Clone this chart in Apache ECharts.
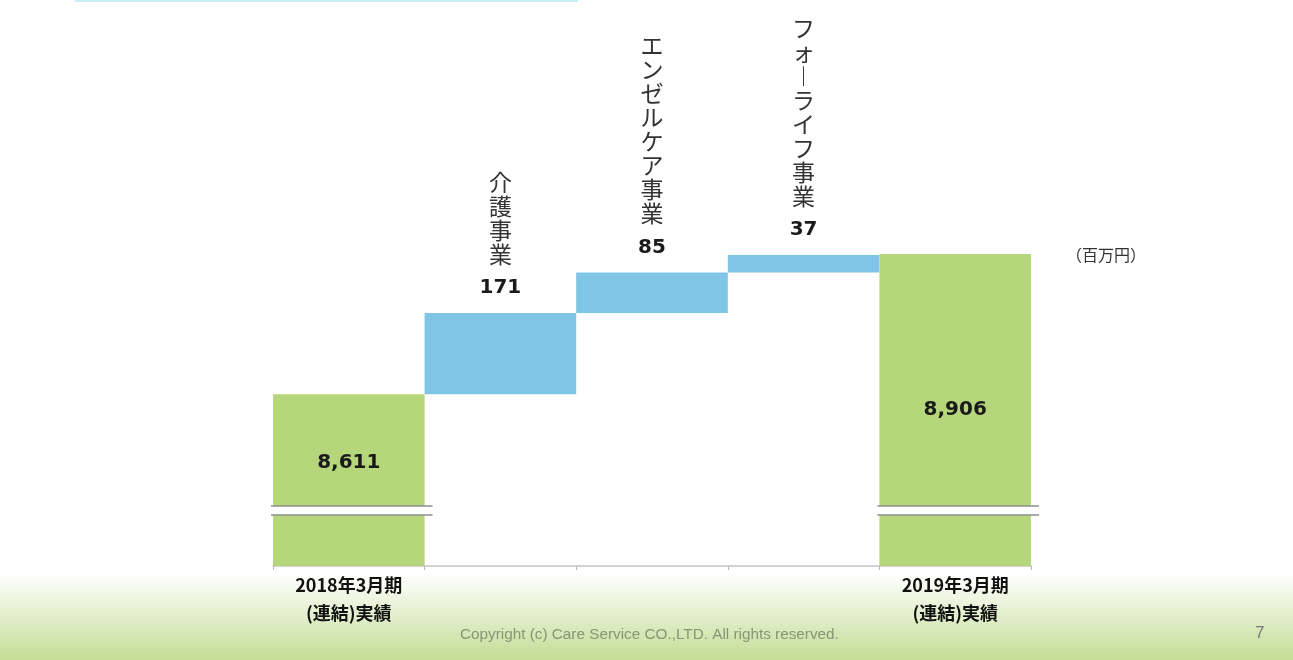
<!DOCTYPE html>
<html>
<head>
<meta charset="utf-8">
<script src="https://cdn.jsdelivr.net/npm/echarts@6/dist/echarts.min.js"></script>
<style>
html,body{margin:0;padding:0;background:#fff;}
#chart{width:1293px;height:660px;}
</style>
</head>
<body>
<div id="chart"></div>
<script>
// ---- data ----
const categories = ['2018年3月期\n(連結)実績', '介護事業', 'エンゼルケア事業', 'フォーライフ事業', '2019年3月期\n(連結)実績'];
const totals = [8611, null, null, null, 8906];
const increments = [null, 171, 85, 37, null];
const axisMin = 8250;
const axisMax = 8950;
const breakRange = [8357, 8376];
const unitLabel = '（百万円）';
const footerText = 'Copyright (c) Care Service CO.,LTD. All rights reserved.';
const pageNumber = '7';

// transparent bases for the waterfall, built from the data
const bases = [];
let running = 0;
categories.forEach((c, i) => {
  if (totals[i] != null) { running = totals[i]; bases.push(null); }
  else { bases.push(running); running += increments[i]; }
});

const breakData = totals.map((v, i) => v != null ? [i, breakRange[0], breakRange[1]] : null).filter(Boolean);

function verticalName(name) {
  return name.split('').map(ch => '{n|' + (ch === 'ー' ? '︱' : ch) + '}').join('\n');
}

const chart = echarts.init(document.getElementById('chart'));
chart.setOption({
  backgroundColor: {
    type: 'linear', x: 0, y: 0, x2: 0, y2: 1,
    colorStops: [
      { offset: 0, color: '#ffffff' },
      { offset: 0.87, color: '#ffffff' },
      { offset: 1, color: '#c3dd95' }
    ]
  },
  animation: false,
  grid: { left: 273, right: 262, top: 233, bottom: 94, containLabel: false },
  xAxis: {
    type: 'category',
    data: categories,
    axisLine: { lineStyle: { color: '#c4c4c4', width: 1.5 } },
    axisTick: { show: true, length: 4, lineStyle: { color: '#b8b8b8' } },
    axisLabel: {
      interval: 0,
      margin: 5,
      color: '#111',
      fontFamily: 'Noto Sans CJK JP',
      fontWeight: 'bold',
      fontSize: 18,
      lineHeight: 28,
      formatter: (v, i) => totals[i] != null ? v : ''
    }
  },
  yAxis: {
    type: 'value', min: axisMin, max: axisMax, show: false,
    splitLine: { show: false }
  },
  graphic: [
    { type: 'rect', shape: { x: 75, y: 0, width: 503, height: 2 }, style: { fill: '#c5eff9' } },
    { type: 'text', left: 1066, top: 247, style: { text: unitLabel, font: '16px "Noto Sans CJK JP"', fill: '#333' } },
    { type: 'text', left: 460, top: 627, style: { text: footerText, font: '15.3px "Liberation Sans"', fill: '#8a9477' } },
    { type: 'text', left: 1255, top: 625, style: { text: pageNumber, font: '17px "Liberation Sans"', fill: '#7a7a7a' } }
  ],
  series: [
    {
      type: 'bar', stack: 'w', data: bases, barCategoryGap: 0,
      itemStyle: { color: 'transparent' }, silent: true
    },
    {
      type: 'bar', stack: 'w', data: increments, barCategoryGap: 0,
      itemStyle: { color: '#7fc5e5' },
      label: {
        show: true, position: 'top', distance: 3,
        formatter: p => verticalName(categories[p.dataIndex]) + '\n{v|' + p.value + '}',
        rich: {
          n: { fontFamily: 'Noto Sans CJK JP', fontSize: 23, lineHeight: 24, color: '#333', align: 'center' },
          v: { fontFamily: 'DejaVu Sans', fontWeight: 'bold', fontSize: 20, lineHeight: 44, color: '#1a1a1a', align: 'center' }
        }
      }
    },
    {
      type: 'bar', stack: 'w', barCategoryGap: 0,
      data: totals.map((v, i) => v == null ? null : (i === 0 ? { value: v, label: { offset: [0, -17] } } : v)),
      itemStyle: { color: '#b6d67b' },
      label: {
        show: true, position: 'inside',
        fontFamily: 'DejaVu Sans', fontWeight: 'bold', fontSize: 20, color: '#1a1a1a',
        formatter: p => p.value.toLocaleString('en-US')
      }
    },
    {
      type: 'custom', data: breakData, z: 5, clip: false, silent: true,
      encode: { x: 0, y: [1, 2] },
      renderItem: (params, api) => {
        const idx = api.value(0);
        const top = api.coord([idx, api.value(2)]);
        const bot = api.coord([idx, api.value(1)]);
        const w = api.size([1, 0])[0];
        const l = top[0] - w / 2 - 2;
        const r = top[0] + w / 2 + 8;
        return {
          type: 'group',
          children: [
            { type: 'rect', shape: { x: l, y: top[1], width: r - l, height: bot[1] - top[1] }, style: { fill: '#ffffff' } },
            { type: 'line', shape: { x1: l, y1: top[1], x2: r, y2: top[1] }, style: { stroke: '#8e8e8e', lineWidth: 1.5 } },
            { type: 'line', shape: { x1: l, y1: bot[1], x2: r, y2: bot[1] }, style: { stroke: '#8e8e8e', lineWidth: 1.5 } }
          ]
        };
      }
    }
  ]
});
</script>
</body>
</html>
